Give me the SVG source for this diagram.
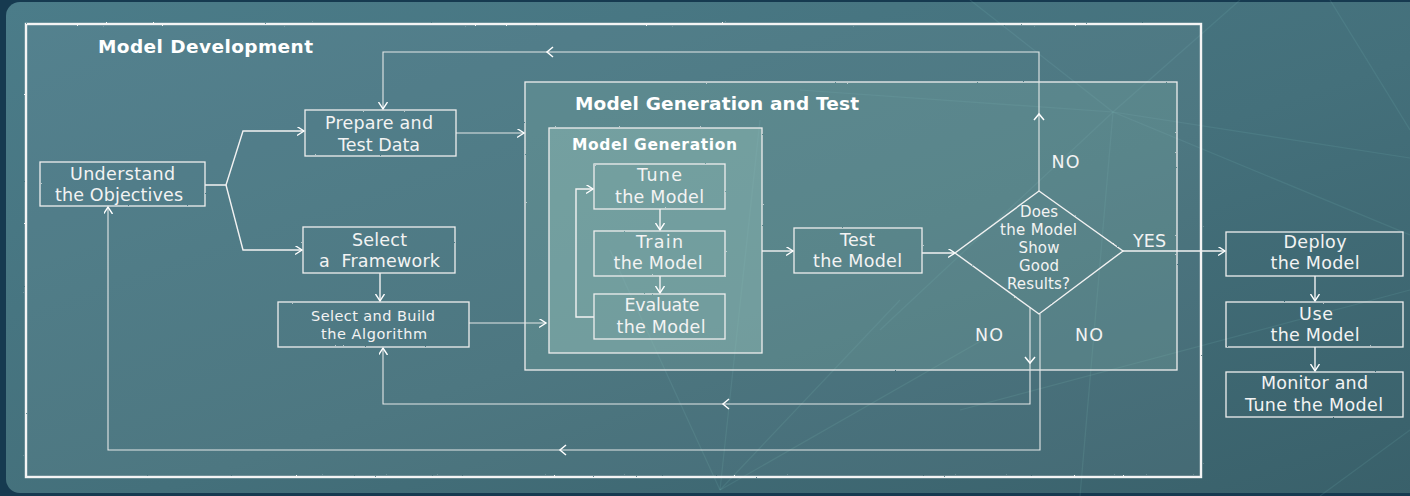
<svg xmlns="http://www.w3.org/2000/svg" width="1410" height="496" viewBox="0 0 1410 496">
  <defs>
    <linearGradient id="panelGrad" x1="0" y1="0" x2="1" y2="1">
      <stop offset="0" stop-color="#4b7c89"/>
      <stop offset="0.55" stop-color="#44707b"/>
      <stop offset="1" stop-color="#39606a"/>
    </linearGradient>
    <filter id="chalk" x="-2%" y="-2%" width="104%" height="104%">
      <feTurbulence type="fractalNoise" baseFrequency="0.9" numOctaves="2" seed="3" result="n"/>
      <feDisplacementMap in="SourceGraphic" in2="n" scale="1.6" xChannelSelector="R" yChannelSelector="G"/>
    </filter>
    <marker id="arrow" markerUnits="userSpaceOnUse" markerWidth="10" markerHeight="10" refX="7" refY="4.5" orient="auto">
      <path d="M0,0 L7,4.5 L0,9" fill="none" stroke="#ffffff" stroke-width="1.4"/>
    </marker>
    <style>
      .frame { fill: none; stroke: #f4f4f4; stroke-width: 2.4; }
      .box { fill: none; stroke: #eeeeee; stroke-width: 1.3; }
      .wire { fill: none; stroke: #f2f2f2; stroke-width: 1.4; }
      .thin { fill: none; stroke: #e4e8e8; stroke-width: 1.1; }
      .chev { fill: none; stroke: #ffffff; stroke-width: 1.5; }
      .ray { stroke: #7fc4c0; stroke-width: 1.2; opacity: 0.13; }
      .t { font-family: "DejaVu Sans", "Open Sans", sans-serif; font-size: 17.5px; fill: #f3f3f3; text-anchor: middle; }
      .s { font-size: 14.5px; }
      .d { font-size: 15px; }
      .h { font-family: "DejaVu Sans", "Open Sans", sans-serif; font-weight: 700; fill: #ffffff; }
    </style>
  </defs>

  <!-- backdrop and panel -->
  <rect x="0" y="0" width="1410" height="496" fill="#163a50"/>
  <rect x="6" y="2" width="1420" height="491" rx="14" fill="url(#panelGrad)"/>

  <!-- faint light rays -->
  <g id="rays">
    <line class="ray" x1="970" y1="0" x2="1113" y2="112"/>
    <line class="ray" x1="1240" y1="0" x2="1113" y2="112"/>
    <line class="ray" x1="1113" y1="112" x2="1410" y2="158"/>
    <line class="ray" x1="1113" y1="112" x2="1410" y2="235"/>
    <line class="ray" x1="1113" y1="112" x2="800" y2="90"/>
    <line class="ray" x1="1113" y1="112" x2="1080" y2="496"/>
    <line class="ray" x1="1113" y1="112" x2="880" y2="330"/>
    <line class="ray" x1="1330" y1="0" x2="1410" y2="130"/>
    <line class="ray" x1="720" y1="490" x2="610" y2="250"/>
    <line class="ray" x1="720" y1="490" x2="900" y2="300"/>
    <line class="ray" x1="720" y1="490" x2="1000" y2="330"/>
    <line class="ray" x1="720" y1="490" x2="760" y2="120"/>
    <line class="ray" x1="1410" y1="290" x2="960" y2="410"/>
    <line class="ray" x1="1410" y1="430" x2="1320" y2="496"/>
  </g>

  <!-- containers -->
  <g id="model-development">
    <rect x="26" y="24" width="1175" height="453" fill="#ffffff" fill-opacity="0.05"/>
    <rect class="frame" x="26" y="24" width="1175" height="453" filter="url(#chalk)"/>
    <text class="h" x="98" y="53" font-size="18.5" textLength="215">Model Development</text>
  </g>

  <g id="model-generation-and-test">
    <rect x="525" y="82" width="652" height="288" fill="#7fb0a8" fill-opacity="0.25"/>
    <rect class="box" x="525" y="82" width="652" height="288" stroke-width="1.6" filter="url(#chalk)"/>
    <text class="h" x="575" y="110" font-size="18.5" textLength="284">Model Generation and Test</text>
  </g>

  <g id="model-generation">
    <rect x="549" y="128" width="213" height="225" fill="#a0ccc2" fill-opacity="0.35"/>
    <rect class="box" x="549" y="128" width="213" height="225" stroke-width="1.6" filter="url(#chalk)"/>
    <text class="h" x="572" y="150" font-size="15.5" textLength="165">Model Generation</text>
  </g>

  <!-- connectors -->
  <g id="connectors">
    <path class="wire" d="M205,185 H226 L243,131 H304" marker-end="url(#arrow)"/>
    <path class="wire" d="M226,185 L243,250 H302" marker-end="url(#arrow)"/>
    <path class="thin" d="M456,133 H524" marker-end="url(#arrow)"/>
    <path class="wire" d="M380,273 V301" marker-end="url(#arrow)"/>
    <path class="thin" d="M469,323 H546" marker-end="url(#arrow)"/>
    <path class="wire" d="M762,251 H793" marker-end="url(#arrow)"/>
    <path class="wire" d="M922,253 H955" marker-end="url(#arrow)"/>
    <path class="wire" d="M660,209 V230" marker-end="url(#arrow)"/>
    <path class="wire" d="M660,276 V293" marker-end="url(#arrow)"/>
    <path class="wire" d="M594,317 H576 V189 H593" marker-end="url(#arrow)"/>
    <path class="wire" d="M1123,251 H1225" marker-end="url(#arrow)"/>
    <path class="wire" d="M1315,276 V301" marker-end="url(#arrow)"/>
    <path class="wire" d="M1315,347 V371" marker-end="url(#arrow)"/>

    <!-- NO loops back to the earlier steps -->
    <path class="thin" d="M1039,191 V52 H383 V109" marker-end="url(#arrow)"/>
    <path class="chev" d="M1034,120 L1039,114 L1044,120"/>
    <path class="chev" d="M553,47 L547,52 L553,57"/>

    <path class="thin" d="M1030,307 V404 H383 V348" marker-end="url(#arrow)"/>
    <path class="chev" d="M1025,357 L1030,363 L1035,357"/>
    <path class="chev" d="M729,399 L723,404 L729,409"/>

    <path class="thin" d="M1040,314 V450 H108 V207" marker-end="url(#arrow)"/>
    <path class="chev" d="M566,445 L560,450 L566,455"/>
  </g>

  <!-- nodes -->
  <g id="understand">
    <rect class="box" x="40" y="162" width="165" height="44" filter="url(#chalk)"/>
    <text class="t" x="122.5" y="180" textLength="105">Understand</text>
    <text class="t" x="119" y="201" textLength="128">the Objectives</text>
  </g>

  <g id="prepare-data">
    <rect class="box" x="305" y="110" width="151" height="46" filter="url(#chalk)"/>
    <text class="t" x="379" y="129" textLength="108">Prepare and</text>
    <text class="t" x="379" y="151" textLength="82">Test Data</text>
  </g>

  <g id="select-framework">
    <rect class="box" x="303" y="227" width="152" height="46" filter="url(#chalk)"/>
    <text class="t" x="379.5" y="246" textLength="55">Select</text>
    <text class="t" x="379.5" y="267" textLength="121" xml:space="preserve">a  Framework</text>
  </g>

  <g id="select-algorithm">
    <rect class="box" x="278" y="302" width="191" height="45" filter="url(#chalk)"/>
    <text class="t s" x="373" y="321" textLength="124">Select and Build</text>
    <text class="t s" x="374" y="339" textLength="106">the Algorithm</text>
  </g>

  <g id="tune-model">
    <rect class="box" x="594" y="164" width="131" height="45" filter="url(#chalk)"/>
    <text class="t" x="659.5" y="181" textLength="45">Tune</text>
    <text class="t" x="659.5" y="203" textLength="89">the Model</text>
  </g>

  <g id="train-model">
    <rect class="box" x="594" y="231" width="131" height="45" filter="url(#chalk)"/>
    <text class="t" x="659.5" y="248" textLength="47">Train</text>
    <text class="t" x="658" y="269" textLength="89">the Model</text>
  </g>

  <g id="evaluate-model">
    <rect class="box" x="594" y="294" width="131" height="45" filter="url(#chalk)"/>
    <text class="t" x="662" y="311" textLength="75">Evaluate</text>
    <text class="t" x="661" y="333" textLength="89">the Model</text>
  </g>

  <g id="test-model">
    <rect class="box" x="794" y="228" width="128" height="45" filter="url(#chalk)"/>
    <text class="t" x="857.5" y="246" textLength="35">Test</text>
    <text class="t" x="857.5" y="267" textLength="89">the Model</text>
  </g>

  <g id="good-results">
    <path class="wire" d="M1039,191 L1123,251 L1039,314 L955,253 Z" stroke-width="1.2" filter="url(#chalk)"/>
    <text class="t d" x="1039" y="217" textLength="38">Does</text>
    <text class="t d" x="1038.5" y="235" textLength="77">the Model</text>
    <text class="t d" x="1039" y="253" textLength="41">Show</text>
    <text class="t d" x="1039" y="271" textLength="40">Good</text>
    <text class="t d" x="1038.5" y="289" textLength="63">Results?</text>
  </g>

  <g id="branch-labels">
    <text class="t" x="1065.5" y="168" textLength="28">NO</text>
    <text class="t" x="1149.5" y="247" textLength="33">YES</text>
    <text class="t" x="989" y="341" textLength="28">NO</text>
    <text class="t" x="1089" y="341" textLength="28">NO</text>
  </g>

  <g id="deploy-model">
    <rect class="box" x="1226" y="232" width="177" height="44" filter="url(#chalk)"/>
    <text class="t" x="1315" y="248" textLength="63">Deploy</text>
    <text class="t" x="1315" y="269" textLength="89">the Model</text>
  </g>

  <g id="use-model">
    <rect class="box" x="1226" y="302" width="177" height="45" filter="url(#chalk)"/>
    <text class="t" x="1316" y="320" textLength="34">Use</text>
    <text class="t" x="1315" y="341" textLength="89">the Model</text>
  </g>

  <g id="monitor-model">
    <rect class="box" x="1226" y="372" width="177" height="45" filter="url(#chalk)"/>
    <text class="t" x="1314.5" y="389" textLength="107">Monitor and</text>
    <text class="t" x="1314" y="411" textLength="138">Tune the Model</text>
  </g>
</svg>
